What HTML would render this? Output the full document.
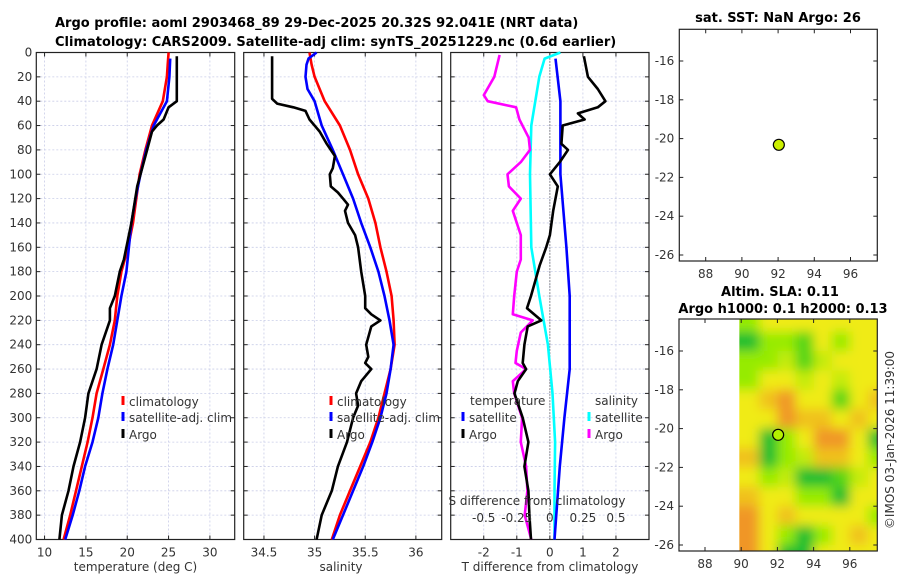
<!DOCTYPE html>
<html><head><meta charset="utf-8">
<style>
body{margin:0;background:#fff;}
svg{display:block;font-family:"DejaVu Sans","Liberation Sans",sans-serif;}
.tk{font-size:12px;fill:#333;}
.tt{font-size:13px;font-weight:bold;fill:#000;}
</style></head>
<body>
<svg id="c" width="900" height="580" viewBox="0 0 900 580" xmlns="http://www.w3.org/2000/svg">
<defs>
<filter id="blur" x="-5%" y="-5%" width="110%" height="110%"><feGaussianBlur stdDeviation="5.5"/></filter>
<clipPath id="mapclip"><rect x="739.4" y="319" width="137.9" height="232"/></clipPath>
</defs>
<text class="tt" x="55" y="27">Argo profile: aoml 2903468_89 29-Dec-2025 20.32S 92.041E (NRT data)</text>
<text class="tt" x="55" y="46">Climatology: CARS2009. Satellite-adj clim: synTS_20251229.nc (0.6d earlier)</text>
<text class="tt" x="778" y="22" text-anchor="middle">sat. SST: NaN Argo: 26</text>
<text class="tt" x="780" y="296" text-anchor="middle">Altim. SLA: 0.11</text>
<text class="tt" x="783" y="313" text-anchor="middle">Argo h1000: 0.1 h2000: 0.13</text>
<text class="tk" transform="translate(894,440) rotate(-90)" text-anchor="middle">©IMOS 03-Jan-2026 11:39:00</text>
</svg>
<script>
// ---- profile data ----
const depthClim = [0,10,20,40,60,80,100,120,140,160,180,200,220,240,260,280,300,320,340,360,380,400];
const tempClim  = [25.0,24.9,24.8,24.3,23.0,22.2,21.5,21.1,20.7,20.1,19.3,18.8,18.5,17.9,17.1,16.3,15.8,15.2,14.5,13.8,13.1,12.3];
const depthSat  = [5,20,40,60,80,100,120,140,160,180,200,220,240,260,280,300,320,340,360,380,400];
const tempSat   = [25.2,25.1,24.8,23.2,22.3,21.6,21.0,20.5,20.2,19.9,19.3,18.8,18.3,17.6,17.0,16.5,15.8,14.9,14.2,13.4,12.5];
const depthArgoT = [3,20,40,45,50,55,60,65,80,100,110,140,160,170,180,190,200,210,220,240,260,280,300,320,340,360,380,400];
const tempArgo   = [26.0,26.0,26.0,25.0,24.7,24.4,23.6,23.0,22.4,21.6,21.2,20.5,19.9,19.6,19.1,18.8,18.5,17.9,17.9,16.9,16.3,15.3,14.9,14.3,13.5,12.9,12.1,11.8];
const salClim = [34.95,34.97,35.0,35.10,35.25,35.35,35.43,35.53,35.60,35.65,35.71,35.76,35.78,35.79,35.75,35.69,35.63,35.55,35.45,35.35,35.25,35.17];
const depthSalSat = [0,5,10,20,30,40,60,80,100,120,140,160,180,200,220,240,260,280,300,320,340,360,380,400];
const salSat = [35.02,34.94,34.92,34.91,34.93,35.0,35.07,35.18,35.28,35.38,35.46,35.55,35.63,35.69,35.74,35.78,35.75,35.71,35.65,35.57,35.48,35.38,35.28,35.18];
const depthArgoS = [3,38,42,45,48,55,65,75,85,95,100,110,115,120,125,130,140,150,160,180,200,210,215,220,225,240,250,255,260,270,280,290,300,320,340,360,380,400];
const salArgo = [34.58,34.58,34.63,34.79,34.91,34.95,35.05,35.12,35.2,35.18,35.15,35.16,35.23,35.28,35.33,35.30,35.33,35.40,35.43,35.46,35.50,35.50,35.56,35.65,35.56,35.51,35.53,35.50,35.56,35.46,35.41,35.43,35.38,35.32,35.23,35.17,35.07,35.02];
// ---- difference data ----
const depthDSat = [5,40,100,160,200,260,300,340,400];
const dTempSat = [0.17,0.32,0.32,0.5,0.6,0.6,0.44,0.3,0.14];
const depthDArgoT = [3,20,30,40,45,50,55,60,75,80,90,100,110,130,150,160,175,200,210,220,225,240,255,260,270,280,300,320,340,360,380,400];
const dTempArgo = [1.03,1.15,1.45,1.68,1.45,0.85,1.05,0.39,0.35,0.55,0.3,0.0,0.24,0.1,0.0,-0.11,-0.31,-0.57,-0.69,-0.26,-0.67,-0.77,-0.82,-0.72,-0.97,-1.07,-0.82,-0.65,-0.77,-0.65,-0.62,-0.57];
const depthDSalSat = [0,5,20,60,100,160,200,240,280,320,360,400];
const dSalSat = [0.08,-0.04,-0.08,-0.14,-0.15,-0.14,-0.08,-0.015,0.02,0.04,0.035,0.035];
const depthDArgoS = [2,20,35,40,45,55,70,80,90,100,110,120,130,150,170,180,200,215,220,230,245,255,260,270,280,300,320,340,360,380,400];
const dSalArgo = [-0.38,-0.42,-0.50,-0.47,-0.255,-0.23,-0.16,-0.15,-0.22,-0.32,-0.31,-0.22,-0.28,-0.22,-0.22,-0.25,-0.27,-0.28,-0.13,-0.22,-0.25,-0.26,-0.18,-0.28,-0.27,-0.21,-0.22,-0.18,-0.17,-0.19,-0.14];
// ---- SLA map grid (0=green low ... 3=orange high), rows lat -14.5..-26.5, cols lon 90.5..97.5 ----
const slaLats = [-14.5,-15.5,-16.5,-17.5,-18.5,-19.5,-20.5,-21.5,-22.5,-23.5,-24.5,-25.5,-26.5];
const slaLons = [90.5,91.5,92.5,93.5,94.5,95.5,96.5,97.5];
const slaVals = [
 [1,2,2,2,2,2,2,2],
 [0,1,1,0.5,2,1,2,2],
 [1,1,1.5,0.5,1.5,2,2,2],
 [1,2,2,1.5,2,1.5,2,2],
 [2,2.5,3,2,2,0.5,2,2.5],
 [2,2,3,2.5,2.5,2,2.5,2],
 [2,0,1,2,3,3,2,0],
 [2.5,0,1,1.5,2.5,2.5,2,1],
 [2,1,1.5,0,0,0.5,1.5,2],
 [2.5,2,2,1,1,0,2,2],
 [3,2,2.5,2,2,2,2,1],
 [3,2,1,0,1,2,2.5,2],
 [3,2,0,0,2,2,2,2]];
const floatLon = [92.041];
const floatLat = [-20.32];

const NS='http://www.w3.org/2000/svg';
const svg=document.getElementById('c');
function mk(tag,attrs,parent){const e=document.createElementNS(NS,tag);for(const k in attrs)e.setAttribute(k,attrs[k]);(parent||svg).appendChild(e);return e;}
function txt(s,attrs,parent){const e=mk('text',attrs,parent);e.textContent=s;return e;}

const Y0=52.5,Y1=539.5;
function yD(d){return Y0+(Y1-Y0)*d/400;}
const depthTicks=[0,20,40,60,80,100,120,140,160,180,200,220,240,260,280,300,320,340,360,380,400];

function panel(name,x0,x1,xmin,xmax,xticks,xlabels,showY){
  const g=mk('g',{});
  
  
  const sx=v=>x0+(v-xmin)/(xmax-xmin)*(x1-x0);
  xticks.forEach(v=>{const l=mk('line',{x1:sx(v),x2:sx(v),y1:Y0,y2:Y1,stroke:'#c9cde8','stroke-width':0.8,'stroke-dasharray':'2,2'},g);
    });
  depthTicks.forEach(d=>{const l=mk('line',{x1:x0,x2:x1,y1:yD(d),y2:yD(d),stroke:'#c9cde8','stroke-width':0.8,'stroke-dasharray':'2,2'},g);
    
    mk('line',{x1:x0,x2:x0+4,y1:yD(d),y2:yD(d),stroke:'#222'},g);
    mk('line',{x1:x1,x2:x1-4,y1:yD(d),y2:yD(d),stroke:'#222'},g);
    if(showY){const t=txt(String(d),{class:'tk',x:x0-4,y:yD(d)+4,'text-anchor':'end'},g);
      }
  });
  xticks.forEach((v,i)=>{mk('line',{x1:sx(v),x2:sx(v),y1:Y1,y2:Y1-4,stroke:'#222'},g);
    mk('line',{x1:sx(v),x2:sx(v),y1:Y0,y2:Y0+4,stroke:'#222'},g);
    if(xlabels){const t=txt(xlabels[i],{class:'tk',x:sx(v),y:Y1+17,'text-anchor':'middle'},g);
      }});
  const r=mk('rect',{x:x0,y:Y0,width:x1-x0,height:Y1-Y0,fill:'none',stroke:'#222','stroke-width':1.2},g);
  
  return {g,sx};
}
function line(p,vals,depths,sx,color,name,w){
  const pts=vals.map((v,i)=>sx(v).toFixed(1)+','+yD(depths[i]).toFixed(1)).join(' ');
  const l=mk('polyline',{points:pts,fill:'none',stroke:color,'stroke-width':w||2.6,'stroke-linejoin':'round'},p);
  
  
}
function legend(p,x,y,color,label,name){
  mk('line',{x1:x,x2:x,y1:y-10,y2:y-1,stroke:color,'stroke-width':3},p);
  const t=txt(label,{class:'tk',x:x+6,y:y,'font-size':'13'},p);
  
  
}

const P1=panel('temperature-panel',36.3,234.7,9,33,[10,15,20,25,30],['10','15','20','25','30'],true);
line(P1.g,tempClim,depthClim,P1.sx,'#ff0000','temp-climatology-line');
line(P1.g,tempSat,depthSat,P1.sx,'#0000ff','temp-satellite-line');
line(P1.g,tempArgo,depthArgoT,P1.sx,'#000000','temp-argo-line');
legend(P1.g,123,406,'#ff0000','climatology','legend-climatology');
legend(P1.g,123,422,'#0000ff','satellite-adj. clim','legend-satellite');
legend(P1.g,123,439,'#000000','Argo','legend-argo');
{const t=txt('temperature (deg C)',{class:'tk','font-size':'13',x:135.5,y:571,'text-anchor':'middle'});}

const P2=panel('salinity-panel',243.7,441.7,34.3,36.255,[34.5,35,35.5,36],['34.5','35','35.5','36'],false);
line(P2.g,salClim,depthClim,P2.sx,'#ff0000','sal-climatology-line');
line(P2.g,salSat,depthSalSat,P2.sx,'#0000ff','sal-satellite-line');
line(P2.g,salArgo,depthArgoS,P2.sx,'#000000','sal-argo-line');
legend(P2.g,331,406,'#ff0000','climatology','legend-climatology-sal');
legend(P2.g,331,422,'#0000ff','satellite-adj. clim','legend-satellite-sal');
legend(P2.g,331,439,'#000000','Argo','legend-argo-sal');
{const t=txt('salinity',{class:'tk','font-size':'13',x:341,y:571,'text-anchor':'middle'});}

const P3=panel('difference-panel',450.7,649,-3,3,[-2,-1,0,1,2],['-2','-1','0','1','2'],false);
const sxS=v=>P3.sx(v*4);
{const z=mk('line',{x1:P3.sx(0),x2:P3.sx(0),y1:Y0,y2:Y1,stroke:'#333','stroke-width':1,'stroke-dasharray':'1,2'},P3.g);}
line(P3.g,dSalSat,depthDSalSat,sxS,'#00ffff','sal-diff-satellite-line');
line(P3.g,dTempSat,depthDSat,P3.sx,'#0000ff','temp-diff-satellite-line');
line(P3.g,dSalArgo,depthDArgoS,sxS,'#ff00ff','sal-diff-argo-line');
line(P3.g,dTempArgo,depthDArgoT,P3.sx,'#000000','temp-diff-argo-line');
{const t=txt('temperature',{class:'tk','font-size':'13',x:470,y:405},P3.g);}
{const t=txt('salinity',{class:'tk','font-size':'13',x:595,y:405},P3.g);}
legend(P3.g,463,422,'#0000ff','satellite','legend-temp-satellite');
legend(P3.g,463,439,'#000000','Argo','legend-temp-argo');
legend(P3.g,589,422,'#00ffff','satellite','legend-sal-satellite');
legend(P3.g,589,439,'#ff00ff','Argo','legend-sal-argo');
{const t=txt('S difference from climatology',{class:'tk','font-size':'13',x:537,y:505,'text-anchor':'middle'},P3.g);}
[-0.5,-0.25,0,0.25,0.5].forEach(v=>{const t=txt(String(v),{class:'tk',x:sxS(v),y:522,'text-anchor':'middle'},P3.g);
  });
{const t=txt('T difference from climatology',{class:'tk','font-size':'13',x:550,y:571,'text-anchor':'middle'});}

function mapAxes(name,x0,y0,x1,y1,lon88x,lat16y){
  const g=mk('g',{});
  
  
  const lx=lon=>lon88x+(lon-88)*18.1;
  const ly=lat=>lat16y+(-16-lat)*19.4;
  return {g,lx,ly,frame:()=>{
    [88,90,92,94,96].forEach(v=>{mk('line',{x1:lx(v),x2:lx(v),y1:y1,y2:y1-4,stroke:'#222'},g);mk('line',{x1:lx(v),x2:lx(v),y1:y0,y2:y0+4,stroke:'#222'},g);
      const t=txt(String(v),{class:'tk',x:lx(v),y:y1+17,'text-anchor':'middle'},g);});
    [-16,-18,-20,-22,-24,-26].forEach(v=>{mk('line',{x1:x0,x2:x0+4,y1:ly(v),y2:ly(v),stroke:'#222'},g);mk('line',{x1:x1,x2:x1-4,y1:ly(v),y2:ly(v),stroke:'#222'},g);
      const t=txt(String(v),{class:'tk',x:x0-5,y:ly(v)+4,'text-anchor':'end'},g);});
    const r=mk('rect',{x:x0,y:y0,width:x1-x0,height:y1-y0,fill:'none',stroke:'#222','stroke-width':1.2},g);
    
  }};
}
const M1=mapAxes('sst-map',679.3,29.3,877.3,261,705.7,61);
M1.frame();
{const c=mk('circle',{cx:M1.lx(floatLon[0]),cy:M1.ly(floatLat[0]),r:5.5,fill:'#ccf000',stroke:'#000','stroke-width':1.2},M1.g);}

const M2=mapAxes('sla-map',679,319,877.3,551,705,351);
const cols=[[0,[20,190,50]],[1,[150,235,0]],[2,[240,235,20]],[3,[240,150,40]]];
function col(v){let a=cols[0],b=cols[cols.length-1];for(let i=0;i<cols.length-1;i++){if(v>=cols[i][0]&&v<=cols[i+1][0]){a=cols[i];b=cols[i+1];break;}}
  const t=(b[0]===a[0])?0:(v-a[0])/(b[0]-a[0]);return 'rgb('+a[1].map((c,i)=>Math.round(c+(b[1][i]-c)*t)).join(',')+')';}
const clipG=mk('g',{'clip-path':'url(#mapclip)'},M2.g);
mk('rect',{x:739,y:319,width:139,height:232,fill:'#f0ea14'},clipG);
const blurG=mk('g',{filter:'url(#blur)'},clipG);
slaLats.forEach((lat,r)=>slaLons.forEach((lon,c)=>{
  const cell=mk('rect',{x:M2.lx(lon-0.5)-(c===0?20:0),y:M2.ly(lat+0.5)-(r===0?20:0),width:18.1+(c===0?20:0)+(c===slaLons.length-1?20:0)+0.5,height:19.4+(r===0?20:0)+(r===slaLats.length-1?20:0)+0.5,fill:col(slaVals[r][c])},blurG);
  
  
}));
M2.frame();
{const c=mk('circle',{cx:M2.lx(floatLon[0]),cy:M2.ly(floatLat[0]),r:5.5,fill:'#b4f000',stroke:'#000','stroke-width':1.2},M2.g);}
</script>
</body></html>
